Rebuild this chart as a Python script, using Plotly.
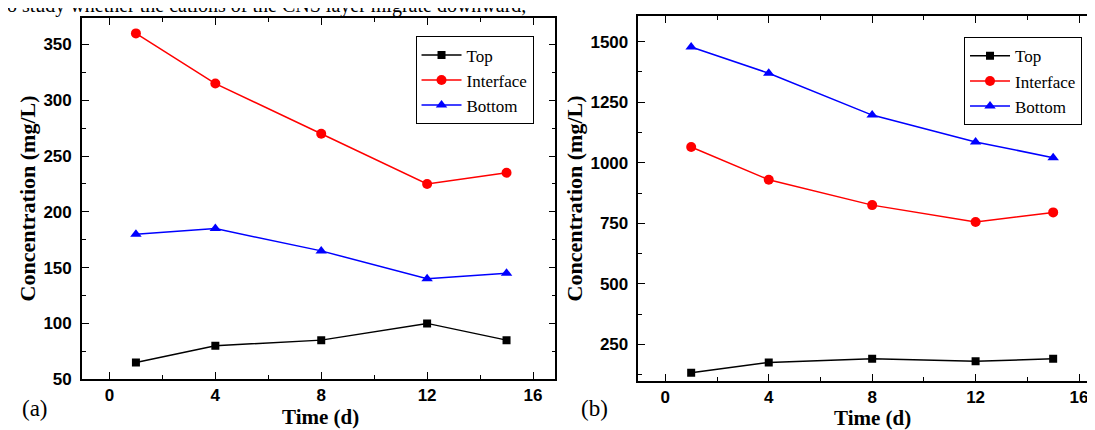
import plotly.graph_objects as go

time_d = [1, 4, 8, 12, 15]
series_names = ["Top", "Interface", "Bottom"]
a_top = [65, 80, 85, 100, 85]
a_interface = [360, 315, 270, 225, 235]
a_bottom = [180, 185, 165, 140, 145]
b_top = [133, 175, 190, 180, 190]
b_interface = [1065, 930, 825, 755, 795]
b_bottom = [1478, 1370, 1197, 1086, 1021]

colors = ["#000000", "#ff0000", "#0000ff"]
symbols = ["square", "circle", "triangle-up"]
msizes = [8, 10, 10]

fig = go.Figure()

for panel, (vals, xa, ya, leg) in enumerate([
    ((a_top, a_interface, a_bottom), "x", "y", "legend"),
    ((b_top, b_interface, b_bottom), "x2", "y2", "legend2"),
]):
    for name, v, c, s, ms in zip(series_names, vals, colors, symbols, msizes):
        fig.add_trace(go.Scatter(
            x=time_d, y=v, name=name, mode="lines+markers",
            line=dict(color=c, width=1.5),
            marker=dict(color=c, symbol=s, size=ms),
            xaxis=xa, yaxis=ya, legend=leg,
        ))

tickfont = dict(family="Liberation Sans", size=17, color="black", weight="bold")
titlefont = dict(family="Liberation Serif", size=22, color="black", weight="bold")
xtitlefont = dict(family="Liberation Serif", size=21, color="black", weight="bold")

def xax(domain, anchor):
    return dict(
        domain=domain, anchor=anchor, range=[-1.04, 16.85],
        tickvals=[0, 4, 8, 12, 16], ticks="inside", ticklen=7, tickwidth=1.3,
        minor=dict(dtick=2, tick0=0, ticks="inside", ticklen=4, tickwidth=1.3, tickcolor="black"),
        showline=True, linecolor="black", linewidth=1.5, mirror="ticks",
        showgrid=False, zeroline=False, tickcolor="black",
        tickfont=tickfont,
    )

def yax(domain, anchor, rng, dtick, tick0):
    return dict(
        domain=domain, anchor=anchor, range=rng,
        dtick=dtick, tick0=tick0, ticks="inside", ticklen=7, tickwidth=1.3,
        minor=dict(dtick=dtick / 2, tick0=tick0, ticks="inside", ticklen=4, tickwidth=1.3, tickcolor="black"),
        showline=True, linecolor="black", linewidth=1.5, mirror="ticks",
        showgrid=False, zeroline=False, tickcolor="black", ticklabelstandoff=5,
        tickfont=tickfont, title=dict(text="Concentration (mg/L)", font=titlefont, standoff=2),
    )

W, H = 1095, 430
legfont = dict(family="Liberation Serif", size=17, color="black")
xdom_a = [74 / W, 548 / W]
xdom_b = [631 / W, 1094 / W]

fig.update_layout(
    width=W, height=H,
    margin=dict(l=0, r=0, t=0, b=0),
    paper_bgcolor="white", plot_bgcolor="white",
    xaxis=xax(xdom_a, "y"),
    yaxis=yax([1 - 380 / H, 1 - 10 / H], "x", [50, 374], 50, 0),
    xaxis2=xax(xdom_b, "y2"),
    yaxis2=yax([1 - 381.5 / H, 1 - 8.5 / H], "x2", [100, 1605], 250, 0),
    legend=dict(x=526 / W, y=1 - 29 / H, xanchor="right", yanchor="top",
                bordercolor="black", borderwidth=1, font=legfont,
                bgcolor="white", tracegroupgap=0, itemwidth=40),
    legend2=dict(x=1075 / W, y=1 - 30 / H, xanchor="right", yanchor="top",
                 bordercolor="black", borderwidth=1, font=legfont,
                 bgcolor="white", tracegroupgap=0, itemwidth=40),
    annotations=[
        dict(text="Time (d)", x=313 / W, y=1 - 419 / H, xref="paper", yref="paper",
             xanchor="center", yanchor="middle", showarrow=False, font=xtitlefont),
        dict(text="Time (d)", x=865 / W, y=1 - 420 / H, xref="paper", yref="paper",
             xanchor="center", yanchor="middle", showarrow=False, font=xtitlefont),
        dict(text="(a)", x=12 / W, y=1 - 410 / H, xref="paper", yref="paper",
             xanchor="left", yanchor="middle", showarrow=False,
             font=dict(family="Liberation Serif", size=23, color="black")),
        dict(text="(b)", x=572 / W, y=1 - 410 / H, xref="paper", yref="paper",
             xanchor="left", yanchor="middle", showarrow=False,
             font=dict(family="Liberation Serif", size=23, color="black")),
        dict(text="o study whether the cations of the CNS layer migrate downward,",
             x=-3 / W, y=1 - 11 / H, xref="paper", yref="paper",
             xanchor="left", yanchor="bottom", showarrow=False,
             font=dict(family="Liberation Serif", size=20, color="black")),
    ],
)

fig.write_html("out.html")
